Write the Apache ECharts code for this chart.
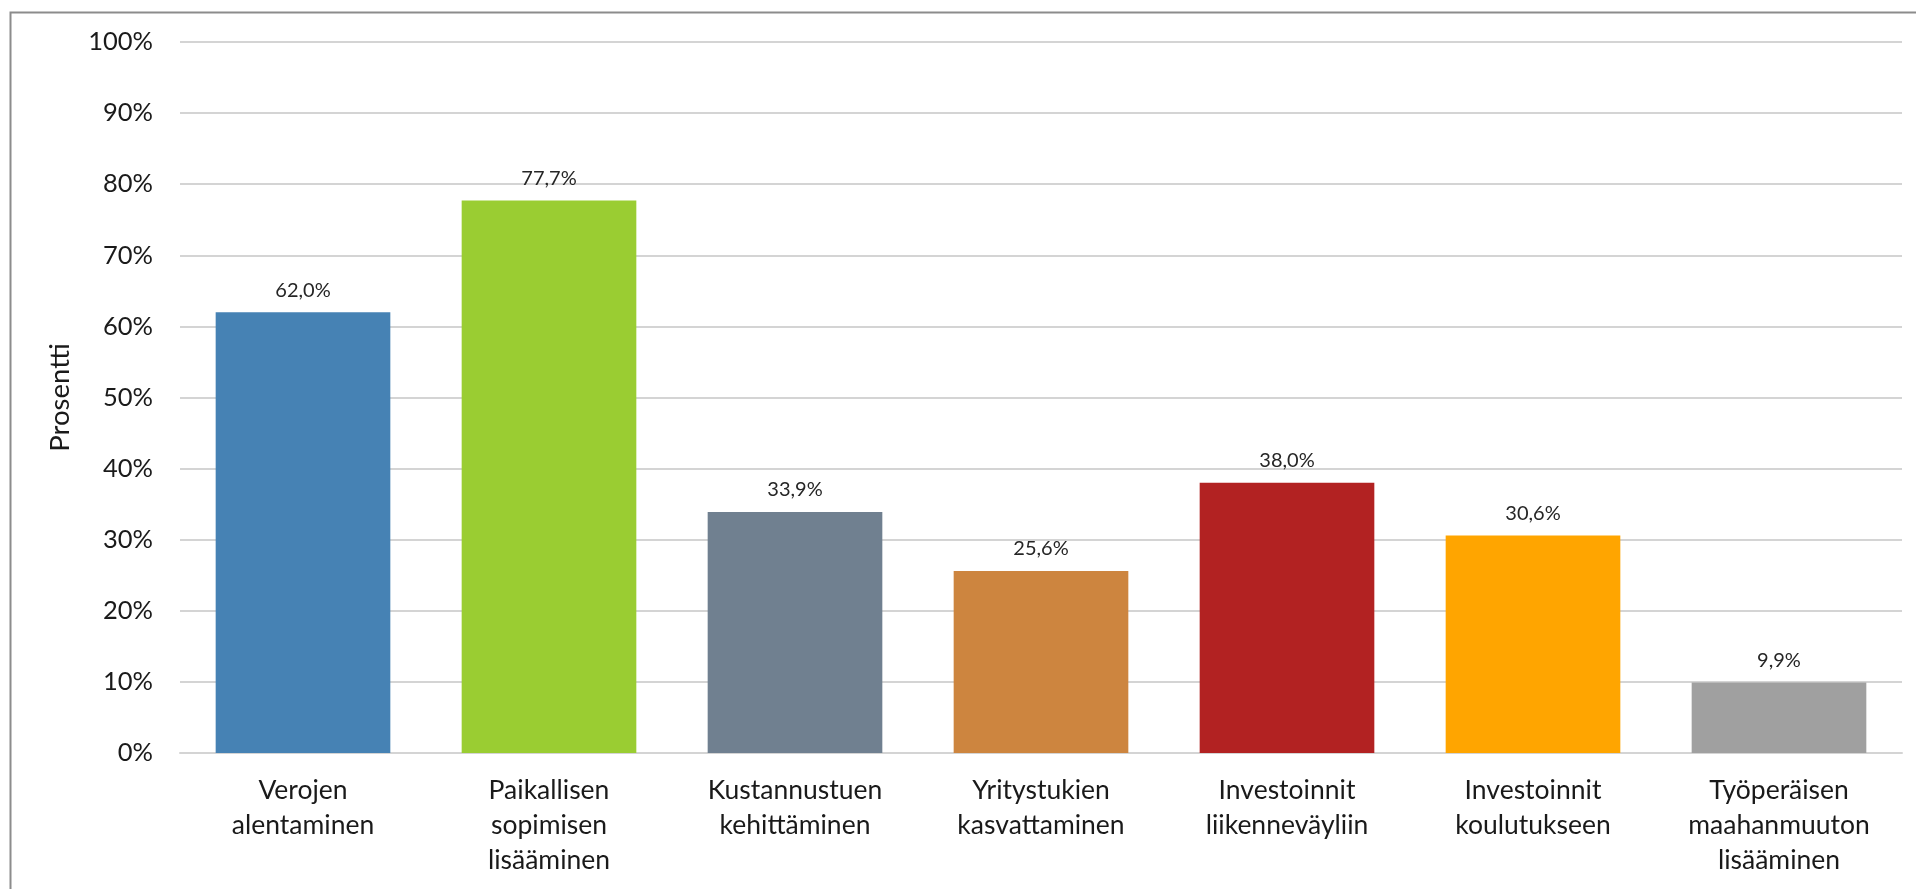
<!DOCTYPE html>
<html>
<head>
<meta charset="utf-8">
<style>
  html, body { margin: 0; padding: 0; background: #fff; }
  #chart { width: 1916px; height: 889px; }
</style>
<script src="https://cdn.jsdelivr.net/npm/echarts@6/dist/echarts.min.js"></script>
</head>
<body>
<div id="chart"></div>
<script>
// categories and values (percent)
var categories = [
  'Verojen\nalentaminen',
  'Paikallisen\nsopimisen\nlisääminen',
  'Kustannustuen\nkehittäminen',
  'Yritystukien\nkasvattaminen',
  'Investoinnit\nliikenneväyliin',
  'Investoinnit\nkoulutukseen',
  'Työperäisen\nmaahanmuuton\nlisääminen'
];
var values = [62.0, 77.7, 33.9, 25.6, 38.0, 30.6, 9.9];
var barColors = ['#4682b4', '#9acd32', '#708090', '#cd853f', '#b22222', '#ffa500', '#a0a0a0'];

var fontFam = 'Lato, "Open Sans", sans-serif';
var myChart = echarts.init(document.getElementById('chart'));

var option = {
  backgroundColor: '#fff',
  animation: false,
  graphic: [{
    type: 'rect',
    shape: { x: 10.5, y: 12.5, width: 2000, height: 2000 },
    style: { fill: 'none', stroke: '#8c8c8c', lineWidth: 2 },
    silent: true
  }],
  grid: { left: 180, right: 14, top: 42, bottom: 136 },
  xAxis: {
    type: 'category',
    data: categories,
    axisLine: { show: true, lineStyle: { color: '#d4d4d4', width: 2 } },
    axisTick: { show: false },
    axisLabel: {
      color: '#1a1a1a', fontSize: 26.5, fontFamily: fontFam,
      lineHeight: 35, margin: 20, interval: 0
    }
  },
  yAxis: {
    type: 'value',
    min: 0, max: 100, interval: 10,
    name: 'Prosentti',
    nameLocation: 'middle',
    nameGap: 106,
    nameTextStyle: { color: '#1a1a1a', fontSize: 27.5, fontFamily: fontFam },
    axisLine: { show: false },
    axisTick: { show: false },
    axisLabel: {
      color: '#1a1a1a', fontSize: 25.5, fontFamily: fontFam, margin: 27,
      formatter: '{value}%'
    },
    splitLine: { lineStyle: { color: '#d4d4d4', width: 2 } }
  },
  series: [{
    type: 'bar',
    barWidth: '71%',
    data: values.map(function (v, i) {
      return { value: v, itemStyle: { color: barColors[i] } };
    }),
    label: {
      show: true,
      position: 'top',
      distance: 12,
      color: '#262626',
      fontSize: 20,
      fontFamily: fontFam,
      formatter: function (p) {
        return p.value.toFixed(1).replace('.', ',') + '%';
      }
    }
  }]
};

myChart.setOption(option);
</script>
</body>
</html>
